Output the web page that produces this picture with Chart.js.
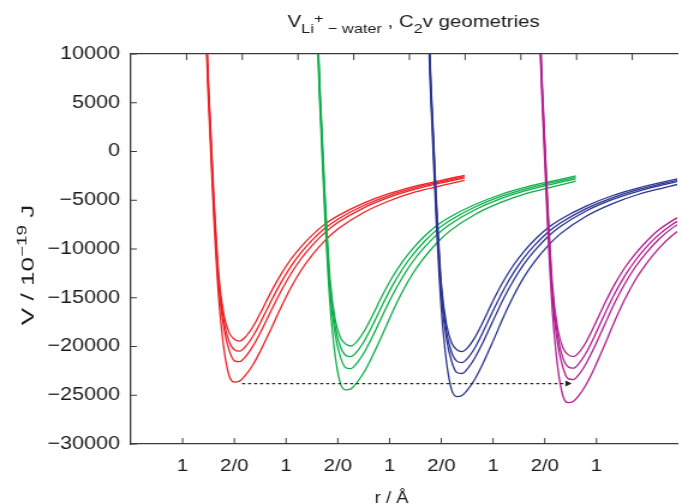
<!DOCTYPE html>
<html>
<head>
<meta charset="utf-8">
<script src="https://cdn.jsdelivr.net/npm/chart.js@4/dist/chart.umd.min.js"></script>
<style>
  html, body { margin: 0; padding: 0; background: #fff; overflow: hidden; }
  /* the reference is stretched sideways, so the canvas is too */
  #c { display: block; width: 682px !important; height: 504px !important; }
</style>
</head>
<body>
<canvas id="c" width="568" height="504"></canvas>
<script>
// ---- data (V in 10^-19 J) ----
const xTickValues = [1, 2, 3, 4, 5, 6, 7, 8, 9];
const xTickLabels = ['1', '2/0', '1', '2/0', '1', '2/0', '1', '2/0', '1'];
const topTickValues = [1, 2, 3, 4, 5, 6, 7, 8, 9];
const yTickValues = [10000, 5000, 0, -5000, -10000, -15000, -20000, -25000, -30000];

const redX = [1.40, 1.50, 1.60, 1.70, 1.80, 1.90, 2.00, 2.10, 2.20, 2.35, 2.50, 2.70, 2.90, 3.10, 3.30, 3.50, 3.75, 4.00, 4.50, 5.00, 5.50, 6.00, 6.45];
const redV1 = [21000, 7000, -4200, -12800, -16800, -18600, -19250, -19440, -19100, -18050, -16600, -14500, -12600, -11000, -9700, -8600, -7450, -6600, -5300, -4300, -3550, -2950, -2450];
const redV2 = [20500, 6500, -4800, -13400, -17500, -19500, -20340, -20480, -20100, -19030, -17580, -15450, -13450, -11730, -10300, -9110, -7880, -6940, -5540, -4490, -3700, -3090, -2580];
const redV3 = [20000, 6000, -5400, -14000, -18200, -20400, -21470, -21560, -21140, -20040, -18590, -16440, -14330, -12480, -10920, -9650, -8320, -7290, -5780, -4680, -3860, -3230, -2710];
const redV4 = [19000, 5000, -6500, -15200, -20300, -23000, -23650, -23550, -23050, -21950, -20500, -18300, -16000, -13900, -12100, -10650, -9150, -7950, -6250, -5050, -4150, -3500, -2950];

const greenX = [3.55, 3.65, 3.75, 3.85, 3.95, 4.05, 4.15, 4.25, 4.35, 4.50, 4.65, 4.85, 5.05, 5.25, 5.45, 5.65, 5.90, 6.15, 6.65, 7.15, 7.65, 8.15, 8.60];
const greenV1 = [21000, 7000, -4310, -13130, -17240, -19080, -19750, -19950, -19600, -18520, -17030, -14880, -12930, -11290, -9950, -8820, -7640, -6770, -5440, -4410, -3640, -3030, -2510];
const greenV2 = [20500, 6500, -4930, -13760, -17970, -20030, -20890, -21030, -20640, -19540, -18060, -15870, -13810, -12050, -10580, -9360, -8090, -7130, -5690, -4610, -3800, -3170, -2650];
const greenV3 = [20000, 6000, -5580, -14460, -18800, -21070, -22180, -22270, -21840, -20700, -19200, -16980, -14800, -12890, -11280, -9970, -8600, -7530, -5970, -4830, -3990, -3340, -2800];
const greenV4 = [19000, 5000, -6720, -15720, -20990, -23780, -24450, -24350, -23830, -22700, -21200, -18920, -16540, -14370, -12510, -11010, -9460, -8220, -6460, -5220, -4290, -3620, -3050];

const blueX = [5.70, 5.80, 5.90, 6.00, 6.10, 6.20, 6.30, 6.40, 6.50, 6.65, 6.80, 7.00, 7.20, 7.40, 7.60, 7.80, 8.05, 8.30, 8.80, 9.30, 9.80, 10.30, 10.75];
const blueV1 = [21000, 7000, -4440, -13520, -17740, -19640, -20330, -20530, -20170, -19060, -17530, -15310, -13310, -11620, -10240, -9080, -7870, -6970, -5600, -4540, -3750, -3120, -2590];
const blueV2 = [20500, 6500, -5070, -14160, -18500, -20610, -21500, -21650, -21250, -20120, -18580, -16330, -14220, -12400, -10890, -9630, -8330, -7340, -5860, -4750, -3910, -3270, -2730];
const blueV3 = [20000, 6000, -5700, -14780, -19220, -21540, -22670, -22770, -22320, -21160, -19630, -17360, -15130, -13180, -11530, -10190, -8790, -7700, -6100, -4940, -4080, -3410, -2860];
const blueV4 = [19000, 5000, -6910, -16160, -21580, -24450, -25140, -25030, -24500, -23330, -21790, -19450, -17010, -14780, -12860, -11320, -9730, -8450, -6640, -5370, -4410, -3720, -3140];

const magX = [7.85, 7.95, 8.05, 8.15, 8.25, 8.35, 8.45, 8.55, 8.65, 8.80, 8.95, 9.15, 9.35, 9.55, 9.75, 9.95, 10.20, 10.45, 10.95];
const magV1 = [21000, 7000, -4540, -13850, -18180, -20130, -20830, -21030, -20670, -19530, -17960, -15690, -13630, -11900, -10500, -9310, -8060, -7140, -5740];
const magV2 = [20500, 6500, -5210, -14540, -18990, -21160, -22070, -22220, -21810, -20650, -19070, -16760, -14590, -12730, -11180, -9880, -8550, -7530, -6010];
const magV3 = [20000, 6000, -5860, -15190, -19750, -22130, -23300, -23390, -22940, -21740, -20170, -17840, -15550, -13540, -11850, -10470, -9030, -7910, -6270];
const magV4 = [19000, 5000, -7080, -16550, -22110, -25050, -25760, -25650, -25100, -23900, -22330, -19930, -17420, -15140, -13180, -11600, -9960, -8660, -6810];

// dashed arrow from the red minimum to the magenta one
const arrowX = [2.15, 8.44];
const arrowV = [-23800, -23800];

const FONT = "'Liberation Sans', Arial, Helvetica, sans-serif";
const TEXT = '#1a1a1a';
const AXIS = '#3a3a3a';
const groups = [
    { x: redX, series: [redV1, redV2, redV3, redV4], color: '#ec2227', order: 4 },
    { x: greenX, series: [greenV1, greenV2, greenV3, greenV4], color: '#0fae4b', order: 3 },
    { x: blueX, series: [blueV1, blueV2, blueV3, blueV4], color: '#2c3591', order: 2 },
    { x: magX, series: [magV1, magV2, magV3, magV4], color: '#b1208f', order: 1 }
];

function toPoints(xs, ys) {
    return xs.map((x, i) => ({ x: x, y: ys[i] }));
}

const datasets = [];
groups.forEach(g => {
    g.series.forEach(vals => {
        datasets.push({
            data: toPoints(g.x, vals),
            showLine: true,
            borderColor: g.color,
            borderWidth: 1.3,
            pointRadius: 0,
            cubicInterpolationMode: 'monotone',
            order: g.order
        });
    });
});
datasets.push({
    data: toPoints(arrowX, arrowV),
    showLine: true,
    borderColor: '#222222',
    borderWidth: 1.3,
    borderDash: [2.5, 2.5],
    pointRadius: [0, 3.5],
    pointStyle: 'triangle',
    rotation: 90,
    pointBackgroundColor: '#222222',
    pointBorderWidth: 0,
    order: 0
});

// text runs with sub/superscripts
function drawRuns(ctx, runs, x, y) {
    runs.forEach(r => {
        ctx.font = r.size + 'px ' + FONT;
        ctx.fillText(r.text, x, y + r.dy);
        x += ctx.measureText(r.text).width;
    });
}
function runsWidth(ctx, runs) {
    let w = 0;
    runs.forEach(r => {
        ctx.font = r.size + 'px ' + FONT;
        w += ctx.measureText(r.text).width;
    });
    return w;
}

const labelsPlugin = {
    id: 'labels',
    afterDraw(chart) {
        const { ctx, chartArea: a, scales } = chart;
        ctx.save();

        // inward tick marks
        ctx.strokeStyle = AXIS;
        ctx.lineWidth = 1;
        ctx.beginPath();
        scales.x.ticks.forEach(t => {
            const px = scales.x.getPixelForValue(t.value);
            ctx.moveTo(px, a.bottom);
            ctx.lineTo(px, a.bottom - 6);
        });
        scales.x2.ticks.forEach(t => {
            const px = scales.x2.getPixelForValue(t.value);
            ctx.moveTo(px, a.top);
            ctx.lineTo(px, a.top + 6);
        });
        scales.y.ticks.forEach(t => {
            const py = scales.y.getPixelForValue(t.value);
            ctx.moveTo(a.left, py);
            ctx.lineTo(a.left + 5, py);
        });
        ctx.stroke();

        ctx.fillStyle = TEXT;
        ctx.textBaseline = 'alphabetic';
        ctx.textAlign = 'left';

        // title
        drawRuns(ctx, [
            { text: 'V', size: 17, dy: 0 },
            { text: 'Li', size: 13.6, dy: 6 },
            { text: '+', size: 13.6, dy: -4 },
            { text: ' \u2212 water', size: 13.6, dy: 6 },
            { text: ' , C', size: 17, dy: 0 },
            { text: '2', size: 13.6, dy: 6 },
            { text: 'v geometries', size: 17, dy: 0 }
        ], 239.5, 27);

        // y axis title, rotated
        const yRuns = [
            { text: 'V / 10', size: 18, dy: 0 },
            { text: '\u221219', size: 13, dy: -7 },
            { text: ' J', size: 18, dy: 0 }
        ];
        ctx.save();
        ctx.translate(27.9, 265);
        ctx.rotate(-Math.PI / 2);
        ctx.scale(1.45, 1 / 1.2);
        drawRuns(ctx, yRuns, -runsWidth(ctx, yRuns) / 2, 0);
        ctx.restore();

        // x axis title
        ctx.save();
        ctx.translate(326.1, 503);
        ctx.scale(0.9, 1);
        ctx.font = '17px ' + FONT;
        ctx.textAlign = 'center';
        ctx.fillText('r / \u00c5', 0, 0);
        ctx.restore();

        ctx.restore();
    }
};

const ctx = document.getElementById('c').getContext('2d');
new Chart(ctx, {
    type: 'scatter',
    data: { datasets: datasets },
    options: {
        responsive: false,
        animation: false,
        devicePixelRatio: 1,
        layout: { padding: { top: 54, left: 0, right: 0, bottom: 0 } },
        plugins: {
            legend: { display: false },
            tooltip: { enabled: false },
            title: { display: false }
        },
        scales: {
            x: {
                type: 'linear',
                position: 'bottom',
                min: 0,
                max: 10.56,
                afterFit: s => { s.height = 60; },
                afterBuildTicks: s => { s.ticks = xTickValues.map(v => ({ value: v })); },
                ticks: {
                    autoSkip: false,
                    maxRotation: 0,
                    padding: 12,
                    color: TEXT,
                    font: { family: FONT, size: 17 },
                    callback: v => xTickLabels[xTickValues.indexOf(v)]
                },
                grid: { display: true, drawOnChartArea: false, drawTicks: false },
                border: { display: true, color: AXIS, width: 1.3 }
            },
            x2: {
                type: 'linear',
                position: 'top',
                min: 0,
                max: 9.806,
                afterFit: s => { s.height = 0; },
                afterBuildTicks: s => { s.ticks = topTickValues.map(v => ({ value: v })); },
                ticks: { display: false },
                grid: { display: true, drawOnChartArea: false, drawTicks: false },
                border: { display: true, color: AXIS, width: 1.3 }
            },
            y: {
                type: 'linear',
                position: 'left',
                min: -30000,
                max: 10000,
                afterFit: s => { s.width = 109; },
                afterBuildTicks: s => { s.ticks = yTickValues.map(v => ({ value: v })); },
                ticks: {
                    padding: 9,
                    color: TEXT,
                    font: { family: FONT, size: 18 },
                    callback: v => (v < 0 ? '\u2212' + Math.abs(v) : String(v))
                },
                grid: { display: true, drawOnChartArea: false, drawTicks: false },
                border: { display: true, color: AXIS, width: 1.3 }
            }
        }
    },
    plugins: [labelsPlugin]
});
</script>
</body>
</html>
